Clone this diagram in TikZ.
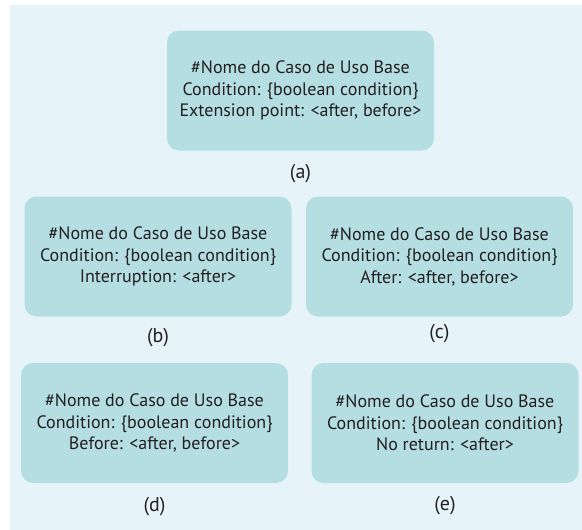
\documentclass[tikz,border=0pt]{standalone}
\usepackage{fontspec}
\setmainfont{PT Sans}
\usetikzlibrary{positioning}
\definecolor{bgblue}{HTML}{E6F4F9}
\definecolor{boxblue}{HTML}{B5DEE3}
\definecolor{txtgray}{HTML}{231F20}

\begin{document}
\begin{tikzpicture}[
    x=1pt, y=-1pt,
    font=\fontsize{18}{21.5}\selectfont,
    usecase/.style={rectangle, fill=boxblue, text=txtgray, rounded corners=12pt, minimum width=267pt, minimum height=120pt, align=center},
    caption/.style={text=txtgray, inner sep=0pt, font=\fontsize{20}{24}\selectfont},
]

% Background
\useasboundingbox (0,0) rectangle (582,530);
\fill[bgblue] (10,5) rectangle (582,530);

% Use case boxes
\node[usecase] (a) at (300.5,90.5) {\#Nome do Caso de Uso Base\\Condition: \{boolean condition\}\\Extension point: <after, before>};
\node[usecase] (b) at (158,256.5) {\#Nome do Caso de Uso Base\\Condition: \{boolean condition\}\\Interruption: <after>};
\node[usecase] (c) at (439.5,256.5) {\#Nome do Caso de Uso Base\\Condition: \{boolean condition\}\\After: <after, before>};
\node[usecase] (d) at (154.5,423) {\#Nome do Caso de Uso Base\\Condition: \{boolean condition\}\\Before: <after, before>};
\node[usecase] (e) at (445,423) {\#Nome do Caso de Uso Base\\Condition: \{boolean condition\}\\No return: <after>};

% Captions
\node[caption, below=13pt of a] (capa) {(a)};
\node[caption, below=11pt of b] (capb) {(b)};
\node[caption, below=7pt of c] (capc) {(c)};
\node[caption, below=14pt of d] (capd) {(d)};
\node[caption, below=13pt of e] (cape) {(e)};

\end{tikzpicture}
\end{document}
